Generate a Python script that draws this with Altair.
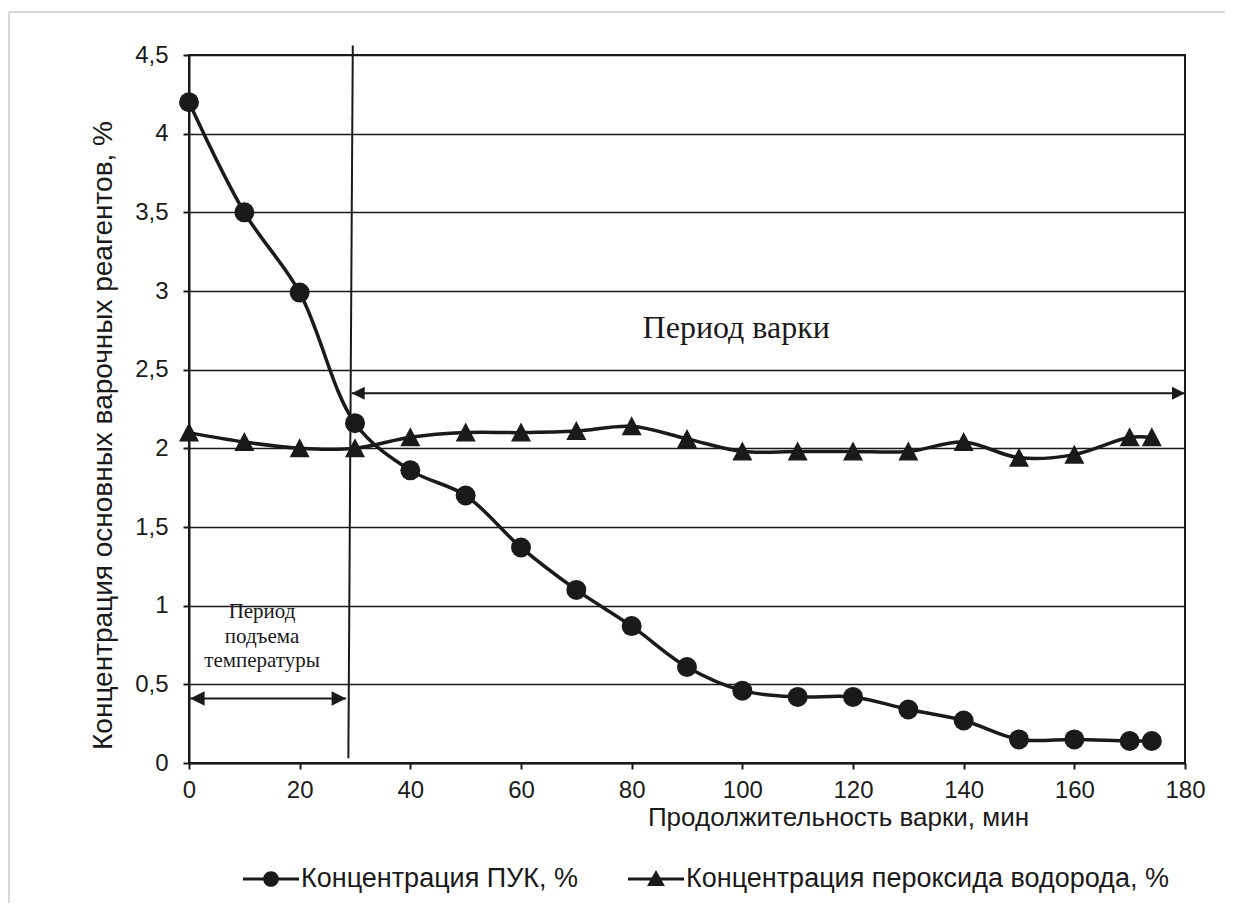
import altair as alt
import pandas as pd

# ---- data ----
time_min = [0, 10, 20, 30, 40, 50, 60, 70, 80, 90, 100, 110, 120, 130, 140, 150, 160, 170, 174]
puk = [4.20, 3.50, 2.99, 2.16, 1.86, 1.70, 1.37, 1.10, 0.87, 0.61, 0.46, 0.42, 0.42, 0.34, 0.27, 0.15, 0.15, 0.14, 0.14]
h2o2 = [2.10, 2.04, 2.00, 2.00, 2.07, 2.10, 2.10, 2.11, 2.14, 2.06, 1.98, 1.98, 1.98, 1.98, 2.04, 1.94, 1.96, 2.07, 2.07]
series_names = ["Концентрация ПУК, %", "Концентрация пероксида водорода, %"]

x_ticks = [0, 20, 40, 60, 80, 100, 120, 140, 160, 180]
y_ticks = [0, 0.5, 1, 1.5, 2, 2.5, 3, 3.5, 4, 4.5]

# annotation geometry (data units)
divider = {"x": [29.6], "y": [4.56], "x2": [28.8], "y2": [0.03]}
cook_arrow = {"x": 29.4, "x2": 180, "y": 2.35}
heat_arrow = {"x": 0.2, "x2": 28.4, "y": 0.41}
cook_label = {"x": [98.9], "y": [2.765], "text": ["Период варки"]}
heat_label = {"x": [13.2, 13.2, 13.2], "y": [0.96, 0.80, 0.65],
              "text": ["Период", "подъема", "температуры"]}

rows = []
for t, a, b in zip(time_min, puk, h2o2):
    rows.append({"t": t, "v": a, "series": series_names[0]})
    rows.append({"t": t, "v": b, "series": series_names[1]})
df = pd.DataFrame(rows)

INK = "#1a1a1a"
xscale = alt.Scale(domain=[0, 180], nice=False, zero=False)
yscale = alt.Scale(domain=[0, 4.5], nice=False)

x_axis = alt.Axis(values=x_ticks, title="Продолжительность варки, мин", grid=False,
                  labelFlush=False, labelPadding=9,
                  titleX=649, titleY=41, titleBaseline="top", titleFontSize=26)
y_axis = alt.Axis(values=y_ticks, title="Концентрация основных варочных реагентов, %",
                  grid=True, labelExpr="replace(format(datum.value, '~g'), '.', ',')",
                  labelFlush=False, labelPadding=15,
                  titleX=-86, titleY=380, titleBaseline="middle", titleAlign="center",
                  titleFontSize=28)

base = alt.Chart(df)

lines = base.mark_line(interpolate="catmull-rom", color=INK, strokeWidth=3.5).encode(
    x=alt.X("t:Q", scale=xscale, axis=x_axis),
    y=alt.Y("v:Q", scale=yscale, axis=y_axis),
    detail="series:N",
)

marker_circle = "circle"
marker_tri = "M0,-1L1,0.9L-1,0.9Z"
points = base.mark_point(filled=True, color=INK, opacity=1, size=400).encode(
    x=alt.X("t:Q", scale=xscale),
    y=alt.Y("v:Q", scale=yscale),
    shape=alt.Shape("series:N", scale=alt.Scale(domain=series_names, range=[marker_circle, marker_tri]),
                    legend=None),
)

# legend glyphs: short line on both sides of the marker, all filled
leg_circle = ("M-1,-0.055L-0.25,-0.055L-0.25,0.055L-1,0.055Z"
              "M0.25,-0.055L1,-0.055L1,0.055L0.25,0.055Z"
              "M-0.28,0A0.28,0.28 0 1,1 0.28,0A0.28,0.28 0 1,1 -0.28,0Z")
leg_tri = ("M-1,-0.055L-0.15,-0.055L-0.15,0.055L-1,0.055Z"
           "M0.15,-0.055L1,-0.055L1,0.055L0.15,0.055Z"
           "M0,-0.32L0.32,0.25L-0.32,0.25Z")
legend_layer = base.mark_point(filled=True, color=INK, opacity=0, size=10).encode(
    x=alt.X("t:Q", scale=xscale),
    y=alt.Y("v:Q", scale=yscale),
    shape=alt.Shape("series:N", scale=alt.Scale(domain=series_names, range=[leg_circle, leg_tri]),
                    legend=alt.Legend(title=None, orient="none", direction="horizontal",
                                      legendX=54, legendY=796, symbolSize=3136,
                                      symbolOpacity=1, symbolFillColor=INK,
                                      symbolStrokeWidth=0,
                                      labelFont="Liberation Sans", labelFontSize=27,
                                      labelColor=INK, labelOffset=2, columnPadding=49,
                                      labelLimit=700)),
)

div_df = pd.DataFrame(divider)
divider_rule = alt.Chart(div_df).mark_rule(color=INK, strokeWidth=2).encode(
    x=alt.X("x:Q", scale=xscale), x2="x2:Q",
    y=alt.Y("y:Q", scale=yscale), y2="y2:Q",
)

arrows_df = pd.DataFrame([
    {"x": cook_arrow["x"], "x2": cook_arrow["x2"], "y": cook_arrow["y"]},
    {"x": heat_arrow["x"], "x2": heat_arrow["x2"], "y": heat_arrow["y"]},
])
arrow_shafts = alt.Chart(arrows_df).mark_rule(color=INK, strokeWidth=2).encode(
    x=alt.X("x:Q", scale=xscale), x2="x2:Q", y=alt.Y("y:Q", scale=yscale),
)
heads_df = pd.DataFrame([
    {"x": cook_arrow["x"], "y": cook_arrow["y"], "dir": "L", "big": "a"},
    {"x": cook_arrow["x2"], "y": cook_arrow["y"], "dir": "R", "big": "a"},
    {"x": heat_arrow["x"], "y": heat_arrow["y"], "dir": "L", "big": "b"},
    {"x": heat_arrow["x2"], "y": heat_arrow["y"], "dir": "R", "big": "b"},
])
arrow_heads = alt.Chart(heads_df).mark_point(filled=True, color=INK, opacity=1, strokeWidth=0).encode(
    x=alt.X("x:Q", scale=xscale), y=alt.Y("y:Q", scale=yscale),
    shape=alt.Shape("dir:N", scale=alt.Scale(domain=["L", "R"],
                    range=["M0,0L1,-0.5L1,0.5Z", "M0,0L-1,-0.5L-1,0.5Z"]), legend=None),
    size=alt.Size("big:N", scale=alt.Scale(domain=["a", "b"], range=[676, 841]), legend=None),
)

cook_text = alt.Chart(pd.DataFrame(cook_label)).mark_text(
    font="Liberation Serif", fontSize=32, color=INK, align="center", baseline="middle"
).encode(x=alt.X("x:Q", scale=xscale), y=alt.Y("y:Q", scale=yscale), text="text:N")

heat_text = alt.Chart(pd.DataFrame(heat_label)).mark_text(
    font="Liberation Serif", fontSize=21, color=INK, align="center", baseline="middle"
).encode(x=alt.X("x:Q", scale=xscale), y=alt.Y("y:Q", scale=yscale), text="text:N")

# faint outer frame of the figure (top and left edges only, decoration)
frame_df = pd.DataFrame({"k": [0]})
frame_top = alt.Chart(frame_df).mark_rule(color="#d9d9d9", strokeWidth=2).encode(
    x=alt.value(-180), x2=alt.value(1036), y=alt.value(-43))
frame_left = alt.Chart(frame_df).mark_rule(color="#d9d9d9", strokeWidth=2).encode(
    x=alt.value(-180), y=alt.value(-43), y2=alt.value(848))

chart = alt.layer(
    frame_top, frame_left, divider_rule, arrow_shafts, arrow_heads, cook_text, heat_text,
    lines, points, legend_layer
).resolve_scale(shape="independent", size="independent").properties(
    width=996, height=708,
    autosize=alt.AutoSizeParams(type="none"),
    padding={"left": 181, "top": 47, "right": 40, "bottom": 140},
    background="white",
).configure_view(
    stroke=INK, strokeWidth=2
).configure_axis(
    labelFont="Liberation Sans", labelFontSize=24, labelColor=INK,
    titleFont="Liberation Sans", titleColor=INK, titleFontWeight="normal",
    domainColor=INK, domainWidth=2, tickColor=INK, tickWidth=2, tickSize=6,
    gridColor=INK, gridWidth=1.6, gridOpacity=1,
)

chart.save("out.html", embed_options={"renderer": "svg", "actions": False})
